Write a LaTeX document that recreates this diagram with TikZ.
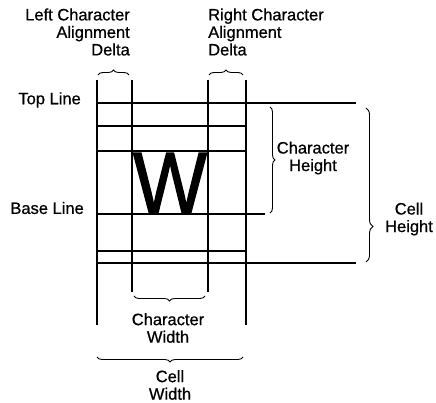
\documentclass[tikz,border=0pt]{standalone}
\usepackage{fontspec}
\setmainfont{Liberation Sans}[FakeBold=0.7]
\newfontfamily\glyphfont{Liberation Sans}[FakeBold=1.6]
\usetikzlibrary{decorations.pathreplacing}
\tikzset{
  rule/.style={line width=1.6pt},
  brc/.style={decorate,decoration={brace,amplitude=5pt},line width=0.9pt},
  lbl/.style={font=\fontsize{16.5}{17.5}\selectfont,inner sep=0pt},
}

\begin{document}
\begin{tikzpicture}[x=1pt,y=1pt]
  \useasboundingbox (0,0) rectangle (436,403);
  % cell frame
  \draw[rule] (97,323) -- (97,78);
  \draw[rule] (246,323) -- (246,78);
  \draw[rule] (132,323) -- (132,111);
  \draw[rule] (208,323) -- (208,111);
  \draw[rule] (97,300) -- (356,300);
  \draw[rule] (97,277) -- (246,277);
  \draw[rule] (97,252) -- (246,252);
  \draw[rule] (97,189) -- (265,189);
  \draw[rule] (97,152) -- (246,152);
  \draw[rule] (97,140) -- (356,140);
  \node[inner sep=0pt,anchor=base,xscale=0.9,font=\glyphfont\fontsize{87}{87}\selectfont] (glyph) at (170,190) {W};
  % braces
  \draw[brc] (98,328) -- (129,328);
  \draw[brc] (209,328) -- (243,328);
  \draw[brc] (270,296) -- (270,190);
  \draw[brc,decoration={amplitude=7pt,aspect=0.77}] (366,295) -- (366,141);
  \draw[brc] (205,107) -- (134,107);
  \draw[brc] (243,46) -- (97,46);
  % labels
  \node[lbl,anchor=east] (toplbl) at (81,303) {Top Line};
  \node[lbl,anchor=east] (baselbl) at (84,195) {Base Line};
  \node[lbl,anchor=east,align=right] (ldelta) at (130,371) {Left Character\\Alignment\\Delta};
  \node[lbl,anchor=west,align=left] (rdelta) at (208,371) {Right Character\\Alignment\\Delta};
  \node[lbl,align=center] (chh) at (313,245) {Character\\Height};
  \node[lbl,align=center] (cellh) at (409,184) {Cell\\Height};
  \node[lbl,align=center] (chw) at (168,75) {Character\\Width};
  \node[lbl,align=center] (cellw) at (170,18) {Cell\\Width};
\end{tikzpicture}
\end{document}
